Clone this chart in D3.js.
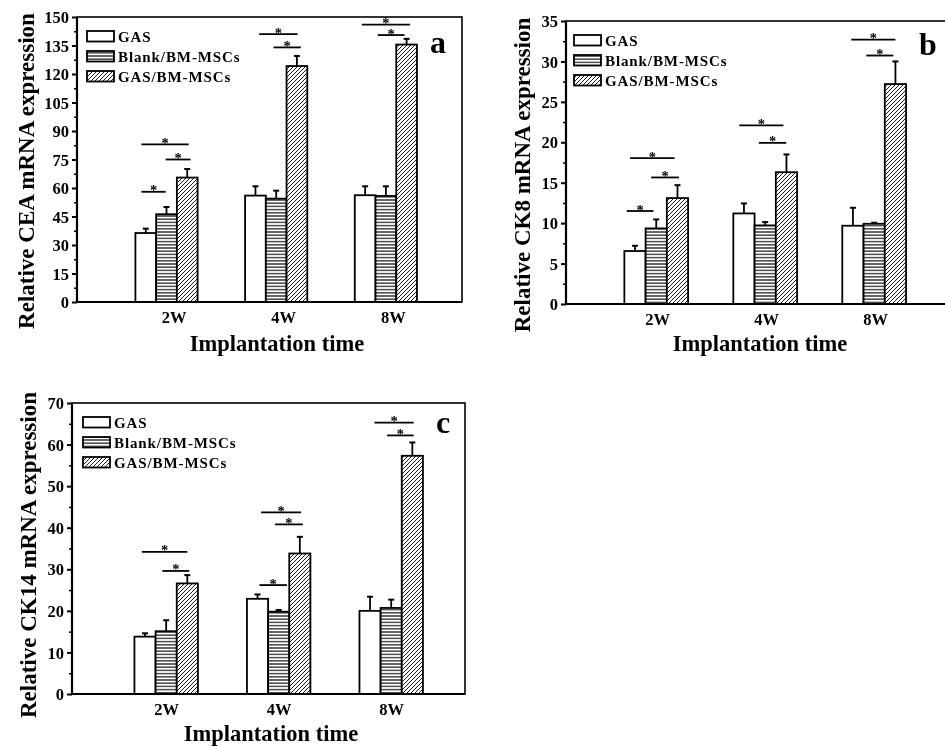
<!DOCTYPE html>
<html><head><meta charset="utf-8">
<script src="https://cdn.jsdelivr.net/npm/d3@7"></script>
<style>
html,body{margin:0;padding:0;background:#fff;}
svg{display:block;will-change:transform;}
text{font-family:"Liberation Serif","Times New Roman",serif;font-weight:bold;fill:#000;}
</style></head>
<body><svg id="chart" width="945" height="747"></svg>
<script>
// ---------- data ----------
const categories = ["2W", "4W", "8W"];
const seriesNames = ["GAS", "Blank/BM-MSCs", "GAS/BM-MSCs"];

// Panel a: CEA
const ceaGAS = [36.3, 56.0, 56.2];
const ceaBlank = [46.2, 54.4, 55.8];
const ceaGASBM = [65.5, 124.2, 135.5];
const ceaErrGAS = [2.3, 4.9, 4.7];
const ceaErrBlank = [3.8, 4.2, 5.1];
const ceaErrGASBM = [4.5, 5.3, 3.0];
const ceaTicks = [0, 15, 30, 45, 60, 75, 90, 105, 120, 135, 150];
// significance brackets: [group, from (bar units), to (bar units), level]
const ceaSig = [[0,0.29,1.46,58],[0,1.46,2.66,75],[0,0.29,2.57,83],[1,0.68,2.53,141],[1,1.37,2.69,134],[2,0.34,2.67,146],[2,1.11,2.4,140.5]];

// Panel b: CK8
const ck8GAS = [6.55, 11.2, 9.68];
const ck8Blank = [9.35, 9.72, 9.92];
const ck8GASBM = [13.1, 16.3, 27.2];
const ck8ErrGAS = [0.65, 1.24, 2.22];
const ck8ErrBlank = [1.11, 0.41, 0.13];
const ck8ErrGASBM = [1.6, 2.2, 2.8];
const ck8Ticks = [0, 5, 10, 15, 20, 25, 30, 35];
const ck8Sig = [[0,0.11,1.37,11.5],[0,1.26,2.57,15.65],[0,0.27,2.36,18.04],[1,0.28,2.36,22.1],[1,1.2,2.49,19.93],[2,0.42,2.5,32.7],[2,1.13,2.4,30.73]];

// Panel c: CK14
const ck14GAS = [13.8, 22.9, 20.0];
const ck14Blank = [15.1, 19.8, 20.7];
const ck14GASBM = [26.6, 33.8, 57.3];
const ck14ErrGAS = [0.8, 1.05, 3.4];
const ck14ErrBlank = [2.64, 0.4, 2.0];
const ck14ErrGASBM = [2.0, 4.0, 3.2];
const ck14Ticks = [0, 10, 20, 30, 40, 50, 60, 70];
const ck14Sig = [[0,0.35,2.5,34.2],[0,1.32,2.59,29.6],[1,0.59,1.89,26.2],[1,0.67,2.56,43.7],[1,1.33,2.64,40.8],[2,0.71,2.56,65.3],[2,1.31,2.56,62.2]];

// ---------- drawing ----------
const svg = d3.select("#chart");
const defs = svg.append("defs");
const hp = defs.append("pattern").attr("id","hstripe").attr("patternUnits","userSpaceOnUse")
  .attr("width",6).attr("height",3.2);
hp.append("rect").attr("width",6).attr("height",3.2).attr("fill","#fff");
hp.append("line").attr("x1",0).attr("x2",6).attr("y1",1.6).attr("y2",1.6).attr("stroke","#000").attr("stroke-width",1.1);
const dp = defs.append("pattern").attr("id","dstripe").attr("patternUnits","userSpaceOnUse")
  .attr("width",4).attr("height",4);
dp.append("rect").attr("width",4).attr("height",4).attr("fill","#fff");
dp.append("path").attr("d","M-1,5 L5,-1 M-1,1 L1,-1 M3,5 L5,3").attr("stroke","#000").attr("stroke-width",0.9);
const fills = ["#fff", "url(#hstripe)", "url(#dstripe)"];

function drawPanel(cfg) {
  const g = svg.append("g");
  const x = d3.scaleLinear().domain(cfg.xDomain).range([cfg.left, cfg.right]);
  const y = d3.scaleLinear().domain([0, cfg.ticks[cfg.ticks.length-1]]).range([cfg.bottom, cfg.top]);
  const bw = (x(1) - x(0)) * cfg.barFrac;
  const barX = (ci, pos) => x(ci) + (pos - 1.5) * bw;

  // bars
  cfg.values.forEach((vals, si) => {
    vals.forEach((v, ci) => {
      const bx = barX(ci, si);
      g.append("rect").attr("x", bx).attr("y", y(v)).attr("width", bw).attr("height", y(0) - y(v))
        .attr("fill", fills[si]).attr("stroke", "#000").attr("stroke-width", 1.8);
      const e = cfg.errors[si][ci];
      const cx = bx + bw / 2;
      g.append("line").attr("x1", cx).attr("x2", cx).attr("y1", y(v)).attr("y2", y(v + e))
        .attr("stroke", "#000").attr("stroke-width", 1.8);
      g.append("line").attr("x1", cx - 3).attr("x2", cx + 3).attr("y1", y(v + e)).attr("y2", y(v + e))
        .attr("stroke", "#000").attr("stroke-width", 2);
    });
  });

  // significance lines
  cfg.sig.forEach(s => {
    const x1 = barX(s[0], s[1]), x2 = barX(s[0], s[2]), yy = y(s[3]);
    g.append("line").attr("x1", x1).attr("x2", x2).attr("y1", yy).attr("y2", yy)
      .attr("stroke", "#000").attr("stroke-width", 1.8);
    g.append("text").attr("x", (x1 + x2) / 2).attr("y", yy + 3.5)
      .attr("text-anchor", "middle").attr("font-size", 14.5).text("*");
  });

  // frame
  g.append("rect").attr("x", cfg.left).attr("y", cfg.top).attr("width", cfg.right - cfg.left)
    .attr("height", cfg.bottom - cfg.top).attr("fill", "none").attr("stroke", "#000").attr("stroke-width", 1.6);
  g.append("line").attr("x1", cfg.left).attr("x2", cfg.right).attr("y1", cfg.bottom).attr("y2", cfg.bottom)
    .attr("stroke", "#000").attr("stroke-width", 2.2);
  g.append("line").attr("x1", cfg.left).attr("x2", cfg.left).attr("y1", cfg.top).attr("y2", cfg.bottom)
    .attr("stroke", "#000").attr("stroke-width", 2.2);

  // y axis
  const step = cfg.ticks[1] - cfg.ticks[0];
  const minors = cfg.ticks.slice(0, -1).map(t => t + step / 2);
  const ya = g.append("g").attr("transform", `translate(${cfg.left},0)`)
    .call(d3.axisLeft(y).tickValues(cfg.ticks).tickSize(5).tickPadding(3));
  ya.select(".domain").remove();
  ya.selectAll("line").attr("stroke-width", 2);
  ya.selectAll("text").attr("font-size", 16.5).attr("font-family", null).attr("dy", "0.34em");
  const ym = g.append("g").attr("transform", `translate(${cfg.left},0)`)
    .call(d3.axisLeft(y).tickValues(minors).tickSize(3).tickFormat(""));
  ym.select(".domain").remove();
  ym.selectAll("line").attr("stroke-width", 1.5);

  // x axis labels
  const xa = g.append("g").attr("transform", `translate(${cfg.labelOffset},${cfg.bottom})`)
    .call(d3.axisBottom(x).tickValues([0, 1, 2]).tickSize(0).tickPadding(9).tickFormat(i => categories[i]));
  xa.select(".domain").remove();
  xa.selectAll("text").attr("font-size", 16.5).attr("font-family", null);

  // titles
  g.append("text").attr("x", cfg.xTitle[0]).attr("y", cfg.xTitle[1]).attr("text-anchor", "middle")
    .attr("font-size", 22.5).text("Implantation time");
  g.append("text").attr("transform", `translate(${cfg.yTitle[0]},${cfg.yTitle[1]}) rotate(-90)`)
    .attr("text-anchor", "middle").attr("dominant-baseline", "central").attr("font-size", 23)
    .text(cfg.yLabel);
  g.append("text").attr("x", cfg.letterPos[0]).attr("y", cfg.letterPos[1]).attr("font-size", 32)
    .text(cfg.letter);

  // legend
  const lx = cfg.left + cfg.legendDx, ly = cfg.top + 14;
  seriesNames.forEach((name, i) => {
    g.append("rect").attr("x", lx).attr("y", ly + i * 20).attr("width", 27).attr("height", 10.5)
      .attr("fill", fills[i]).attr("stroke", "#000").attr("stroke-width", 1.8);
    g.append("text").attr("x", lx + 31).attr("y", ly + i * 20 + 10.5).attr("font-size", 15)
      .attr("letter-spacing", "0.9px").text(name);
  });
}

drawPanel({
  left: 77, right: 462, top: 17, bottom: 302, xDomain: [-0.816, 2.694], barFrac: 0.189,
  ticks: ceaTicks, values: [ceaGAS, ceaBlank, ceaGASBM], errors: [ceaErrGAS, ceaErrBlank, ceaErrGASBM],
  sig: ceaSig, labelOffset: 7, xTitle: [277, 351], yTitle: [26, 171], yLabel: "Relative CEA mRNA expression",
  letter: "a", letterPos: [430, 53], legendDx: 10
});
drawPanel({
  left: 566, right: 951, top: 21, bottom: 304, xDomain: [-0.828, 2.705], barFrac: 0.195,
  ticks: ck8Ticks, values: [ck8GAS, ck8Blank, ck8GASBM], errors: [ck8ErrGAS, ck8ErrBlank, ck8ErrGASBM],
  sig: ck8Sig, labelOffset: 1, xTitle: [760, 351], yTitle: [522, 175], yLabel: "Relative CK8 mRNA expression",
  letter: "b", letterPos: [919, 55], legendDx: 8
});
drawPanel({
  left: 72, right: 465, top: 403, bottom: 694, xDomain: [-0.837, 2.656], barFrac: 0.188,
  ticks: ck14Ticks, values: [ck14GAS, ck14Blank, ck14GASBM], errors: [ck14ErrGAS, ck14ErrBlank, ck14ErrGASBM],
  sig: ck14Sig, labelOffset: 0, xTitle: [271, 741], yTitle: [28, 555], yLabel: "Relative CK14 mRNA expression",
  letter: "c", letterPos: [436, 433], legendDx: 11
});
</script></body></html>
